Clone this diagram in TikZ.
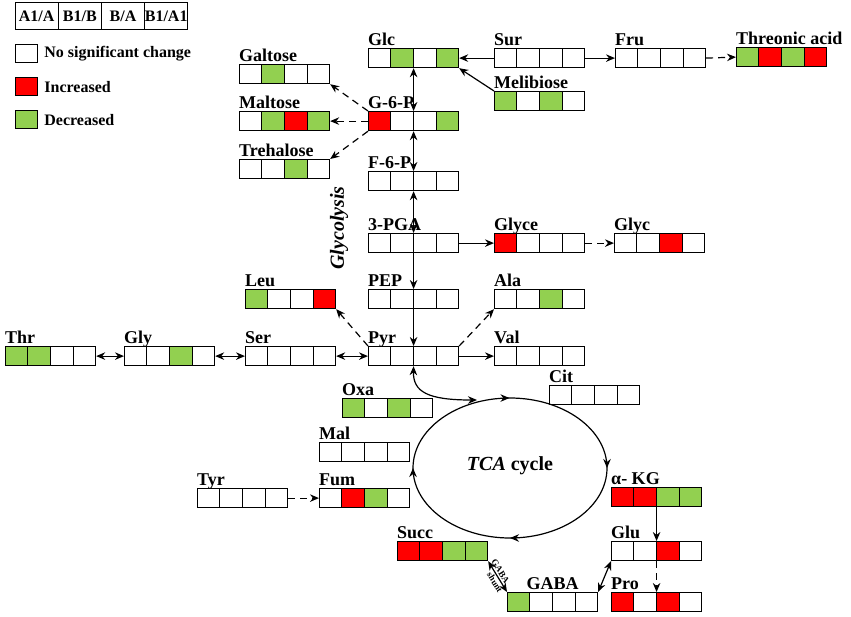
\documentclass[tikz,border=0pt]{standalone}
\usepackage{fontspec}
\setmainfont{Liberation Serif}
\usetikzlibrary{shapes.multipart,arrows.meta,decorations.markings,positioning}
\definecolor{incr}{RGB}{255,0,0}
\definecolor{decr}{RGB}{146,208,80}
\newcommand{\hdrcell}[1]{\makebox[42pt]{\rule[-8pt]{0pt}{27pt}#1}}
\tikzset{strip/.style={draw=black, line width=1.2pt, rectangle split, rectangle split horizontal, rectangle split parts=4, rectangle split ignore empty parts=false, rectangle split empty part width=17pt, rectangle split empty part height=19pt, rectangle split empty part depth=0pt, inner sep=0pt, anchor=north west}}
\tikzset{cells/.style={rectangle split part fill={#1}}}
\tikzset{met label/.style={anchor=base west, inner sep=0pt, yshift=3pt, font=\bfseries\fontsize{18}{20}\selectfont}}
\tikzset{metab/.style={strip, label={[met label]north west:#1}}}
\tikzset{header/.style={draw=black, line width=1.2pt, rectangle split, rectangle split horizontal, rectangle split parts=4, inner sep=0pt, anchor=north west, font=\bfseries\fontsize{16}{18}\selectfont}}
\tikzset{key/.style={draw=black, line width=1.2pt, minimum width=22pt, minimum height=18pt, inner sep=0pt, anchor=north west}}
\tikzset{key text/.style={anchor=west, inner sep=0pt, font=\bfseries\fontsize{16}{18}\selectfont}}
\tikzset{flow/.style={line width=1.2pt}}
\tikzset{dashflow/.style={dash pattern=on 7pt off 5pt}}
\tikzset{shunt/.style={inner sep=1.5pt, font=\bfseries\fontsize{9}{10}\selectfont}}

\begin{document}
\begin{tikzpicture}[x=1pt, y=-1pt, >={Stealth[length=9pt,width=7.5pt]}]
\useasboundingbox (0,0) rectangle (851,616);

\node[header] (hdr) at (15,2) {\hdrcell{A1/A}\nodepart{two}\hdrcell{B1/B}\nodepart{three}\hdrcell{B/A}\nodepart{four}\hdrcell{B1/A1}};
\node[key, fill=white] (nsc) at (15,44) {};
\node[key text, right=6pt of nsc] (nsctext) {No significant change};
\node[key, fill=incr] (inc) at (15,77) {};
\node[key text, right=6pt of inc] (inctext) {Increased};
\node[key, fill=decr] (dec) at (15,110) {};
\node[key text, right=6pt of dec] (dectext) {Decreased};

\node[metab=Glc, cells={white,decr,white,decr}] (glc) at (368,48) {};
\node[metab=Sur] (sur) at (494,48) {};
\node[metab=Fru] (fru) at (615,48) {};
\node[metab=Threonic acid, cells={decr,incr,decr,incr}] (thre) at (736,47) {};
\node[metab=Melibiose, cells={decr,white,decr,white}] (meli) at (494,91) {};
\node[metab=Galtose, cells={white,decr,white,white}] (galt) at (239,64) {};
\node[metab=Maltose, cells={white,decr,incr,decr}] (malt) at (239,111) {};
\node[metab=G-6-P, cells={incr,white,white,decr}] (g6p) at (368,111) {};
\node[metab=Trehalose, cells={white,white,decr,white}] (treh) at (239,159) {};
\node[metab=F-6-P] (f6p) at (368,171) {};
\node[metab=3-PGA] (pga) at (368,233) {};
\node[metab=Glyce, cells={incr,white,white,white}] (glyce) at (494,233) {};
\node[metab=Glyc, cells={white,white,incr,white}] (glyc) at (614,233) {};
\node[metab=PEP] (pep) at (368,289) {};
\node[metab=Leu, cells={decr,white,white,incr}] (leu) at (245,289) {};
\node[metab=Ala, cells={white,white,decr,white}] (ala) at (494,289) {};
\node[metab=Pyr] (pyr) at (368,346) {};
\node[metab=Val] (val) at (494,346) {};
\node[metab=Ser] (ser) at (245,346) {};
\node[metab=Gly, cells={white,white,decr,white}] (gly) at (124,346) {};
\node[metab=Thr, cells={decr,decr,white,white}] (thr) at (5,346) {};
\node[metab=Cit] (cit) at (549,385) {};
\node[metab=Oxa, cells={decr,white,decr,white}] (oxa) at (342,398) {};
\node[metab=Mal] (mal) at (319,442) {};
\node[metab=Fum, cells={white,incr,decr,white}] (fum) at (319,488) {};
\node[metab=Tyr] (tyr) at (197,488) {};
\node[metab=α- KG, cells={incr,incr,decr,decr}] (akg) at (611,487) {};
\node[metab=Glu, cells={white,white,incr,white}] (glu) at (611,541) {};
\node[metab=Pro, cells={incr,white,incr,white}] (pro) at (611,592) {};
\node[metab=Succ, cells={incr,incr,decr,decr}] (succ) at (397,541) {};
\node[strip, cells={decr,white,white,white}, label={[met label, anchor=base]north:GABA}] (gaba) at (507,592) {};

\node[rotate=90, inner sep=0pt, font=\bfseries\itshape\fontsize{20}{22}\selectfont] (glycol) at (339,228) {Glycolysis};
\node[inner sep=0pt, font=\bfseries\fontsize{20}{22}\selectfont] (tca) at (510,466) {\textit{TCA} cycle};
\coordinate (tcain) at (477,400);

\draw[flow, postaction={decorate}, decoration={markings, mark=at position 0.25 with {\arrow{>}}, mark=at position 0.5 with {\arrow{>}}, mark=at position 0.75 with {\arrow{>}}, mark=at position 0.999 with {\arrow{>}}}] (510,398) arc[start angle=-90, end angle=270, x radius=97, y radius=70];

\draw[flow,<->] (glc.south) -- (g6p.north);
\draw[flow,<->] (g6p.south) -- (f6p.north);
\draw[flow,<->] (f6p.south) -- (pga.north);
\draw[flow,->] (pga.south) -- (pep.north);
\draw[flow,->] (pep.south) -- (pyr.north);
\draw[flow,->] (sur.west) -- (glc.east);
\draw[flow,->] (meli.north west) -- (glc.south east);
\draw[flow,->] (sur.east) -- (fru.west);
\draw[flow,->,dashflow] (fru.east) -- (thre.west);
\draw[flow,->,dashflow] (g6p.north west) -- (galt.south east);
\draw[flow,->,dashflow] (g6p.west) -- (malt.east);
\draw[flow,->,dashflow] (g6p.south west) -- (treh.north east);
\draw[flow,->] (pga.east) -- (glyce.west);
\draw[flow,->,dashflow] (glyce.east) -- (glyc.west);
\draw[flow,->,dashflow] (pyr.north west) -- (leu.south east);
\draw[flow,->,dashflow] (pyr.north east) -- (ala.south west);
\draw[flow,->] (pyr.east) -- (val.west);
\draw[flow,<->] (ser.east) -- (pyr.west);
\draw[flow,<->] (gly.east) -- (ser.west);
\draw[flow,<->] (thr.east) -- (gly.west);
\draw[flow,<->] (pyr.south) .. controls (413,392) and (428,400) .. (tcain);
\draw[flow,->,dashflow] (tyr.east) -- (fum.west);
\draw[flow,->] (akg.south) -- (glu.north);
\draw[flow,->,dashflow] (glu.south) -- (pro.north);
\draw[flow,<->] (gaba.north east) -- (glu.south west);
\draw[flow,<->] (succ.south east) -- (gaba.north west) node[pos=0.42, sloped, above, shunt] (gabatext) {GABA} node[pos=0.6, sloped, below, shunt] (shunttext) {shunt};
\end{tikzpicture}
\end{document}
